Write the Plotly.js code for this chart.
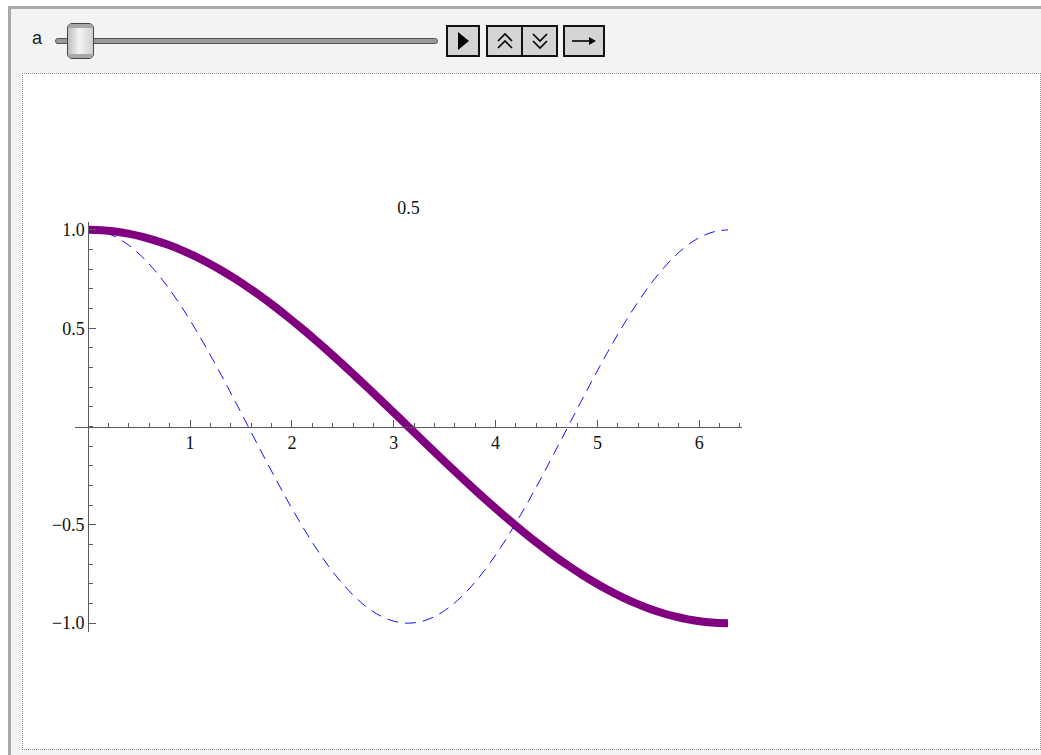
<!DOCTYPE html>
<html>
<head>
<meta charset="utf-8">
<script src="https://cdn.plot.ly/plotly-3.0.1.min.js"></script>
<style>
  html, body { margin:0; padding:0; background:#ffffff; width:1041px; height:755px; overflow:hidden; }
  #outer { position:absolute; left:8px; top:6px; width:1040px; height:760px; background:#f3f3f3;
           border-top:3px solid #a9a9a9; border-left:3px solid #a9a9a9; }
  #inner { position:absolute; left:22px; top:73px; width:1017px; height:675px; background:#ffffff;
           border:1px dotted #8a8a8a; }
  #lbl { position:absolute; left:32px; top:28px; font-family:"Liberation Sans", Arial, sans-serif; font-size:18px; color:#222; }
  #track { position:absolute; left:55px; top:38px; width:381px; height:4px; background:#9a9a9a;
           border:1px solid #555; border-radius:3px; }
  #thumb { position:absolute; left:67px; top:23px; width:27px; height:36px; border:1px solid #444; border-radius:5px;
           background:linear-gradient(to right, #bdbdbd, #f4f4f4 45%, #d0d0d0); box-sizing:border-box; }
  #thumb:before { content:""; position:absolute; left:0; right:0; top:0; height:4px; background:#a8a8a8; border-radius:4px 4px 0 0; }
  #thumb:after { content:""; position:absolute; left:0; right:0; bottom:0; height:4px; background:#a8a8a8; border-radius:0 0 4px 4px; }
  .btn { position:absolute; top:25px; height:32px; background:#d4d4d4; border:2px solid #111; box-sizing:border-box;
         display:flex; align-items:center; justify-content:center; }
  #plot { position:absolute; left:0; top:0; width:1041px; height:755px; }
</style>
</head>
<body>
<div id="outer"></div>
<div id="inner"></div>
<div id="lbl">a</div>
<div id="track"></div>
<div id="thumb"></div>
<div class="btn" style="left:446px;width:34px;">
  <svg width="16" height="20"><polygon points="3,1 14,10 3,19" fill="#000"/></svg>
</div>
<div class="btn" style="left:486px;width:37px;">
  <svg width="20" height="20"><polyline points="3,10 10,3 17,10" fill="none" stroke="#000" stroke-width="1.6"/><polyline points="3,17 10,10 17,17" fill="none" stroke="#000" stroke-width="1.6"/></svg>
</div>
<div class="btn" style="left:521px;width:37px;">
  <svg width="20" height="20"><polyline points="3,3 10,10 17,3" fill="none" stroke="#000" stroke-width="1.6"/><polyline points="3,10 10,17 17,10" fill="none" stroke="#000" stroke-width="1.6"/></svg>
</div>
<div class="btn" style="left:563px;width:42px;">
  <svg width="28" height="14"><line x1="2" y1="7" x2="22" y2="7" stroke="#000" stroke-width="1.6"/><polygon points="19,3 26,7 19,11" fill="#000"/></svg>
</div>
<div id="plot"></div>
<script>
// Parameter value shown above the plot
const paramLabel = "0.5";

// Sample positions along x (0 .. 2π)
const xs = [0, 0.131, 0.262, 0.393, 0.524, 0.654, 0.785, 0.916, 1.047, 1.178, 1.309, 1.440,
  1.571, 1.702, 1.833, 1.963, 2.094, 2.225, 2.356, 2.487, 2.618, 2.749, 2.880, 3.011,
  3.142, 3.272, 3.403, 3.534, 3.665, 3.796, 3.927, 4.058, 4.189, 4.320, 4.451, 4.581,
  4.712, 4.843, 4.974, 5.105, 5.236, 5.367, 5.498, 5.629, 5.760, 5.890, 6.021, 6.152, 6.283];

// Dashed blue curve
const dashedY = [1, 0.9914, 0.9659, 0.9239, 0.8660, 0.7934, 0.7071, 0.6088, 0.5, 0.3827, 0.2588, 0.1305,
  0, -0.1305, -0.2588, -0.3827, -0.5, -0.6088, -0.7071, -0.7934, -0.8660, -0.9239, -0.9659, -0.9914,
  -1, -0.9914, -0.9659, -0.9239, -0.8660, -0.7934, -0.7071, -0.6088, -0.5, -0.3827, -0.2588, -0.1305,
  0, 0.1305, 0.2588, 0.3827, 0.5, 0.6088, 0.7071, 0.7934, 0.8660, 0.9239, 0.9659, 0.9914, 1];

// Thick purple curve
const thickY = [1, 0.9979, 0.9914, 0.9808, 0.9659, 0.9469, 0.9239, 0.8969, 0.8660, 0.8315, 0.7934, 0.7518,
  0.7071, 0.6594, 0.6088, 0.5556, 0.5, 0.4423, 0.3827, 0.3214, 0.2588, 0.1951, 0.1305, 0.0654,
  0, -0.0654, -0.1305, -0.1951, -0.2588, -0.3214, -0.3827, -0.4423, -0.5, -0.5556, -0.6088, -0.6594,
  -0.7071, -0.7518, -0.7934, -0.8315, -0.8660, -0.8969, -0.9239, -0.9469, -0.9659, -0.9808, -0.9914, -0.9979, -1];

// Tick labels
const xTickVals = [1, 2, 3, 4, 5, 6];
const xTickText = ["1", "2", "3", "4", "5", "6"];
const yTickVals = [1, 0.5, -0.5, -1];
const yTickText = ["1.0", "0.5", "\u22120.5", "\u22121.0"];

const xRange = [-0.13, 6.42];
const yRange = [-1.045, 1.04];

const axisColor = "#5a5a5a";
const tickFont = {family: "Liberation Serif, Times New Roman, serif", size: 18, color: "#111"};

const traces = [
  {x: xs, y: dashedY, type: "scatter", mode: "lines",
   line: {color: "#1010ff", width: 1, dash: "11px,7px", shape: "spline"}, hoverinfo: "skip"},
  {x: xs, y: thickY, type: "scatter", mode: "lines",
   line: {color: "#800080", width: 8, shape: "spline"}, hoverinfo: "skip"}
];

const layout = {
  width: 1041, height: 755,
  margin: {l: 75, r: 299, t: 222, b: 123},
  paper_bgcolor: "rgba(0,0,0,0)", plot_bgcolor: "rgba(0,0,0,0)",
  showlegend: false,
  title: {text: paramLabel, font: {family: "Liberation Serif, Times New Roman, serif", size: 18, color: "#111"},
          xref: "paper", x: 0.5, xanchor: "center", yref: "container", y: 1 - 208/755, yanchor: "middle"},
  xaxis: {range: xRange, anchor: "free", position: (0 - yRange[0]) / (yRange[1] - yRange[0]),
          showgrid: false, zeroline: false, showline: true, linecolor: axisColor, linewidth: 1,
          tickmode: "array", tickvals: xTickVals, ticktext: xTickText, ticks: "inside", ticklen: 7,
          tickcolor: axisColor, tickwidth: 1, tickfont: tickFont, ticklabelstandoff: 0,
          minor: {tickmode: "linear", tick0: 0, dtick: 0.2, ticks: "inside", ticklen: 4, tickcolor: axisColor, tickwidth: 1, showgrid: false}},
  yaxis: {range: yRange, anchor: "free", position: (0 - xRange[0]) / (xRange[1] - xRange[0]),
          showgrid: false, zeroline: false, showline: true, linecolor: axisColor, linewidth: 1,
          tickmode: "array", tickvals: yTickVals, ticktext: yTickText, ticks: "inside", ticklen: 7,
          tickcolor: axisColor, tickwidth: 1, tickfont: tickFont, ticklabelstandoff: 0,
          minor: {tickmode: "linear", tick0: 0, dtick: 0.1, ticks: "inside", ticklen: 4, tickcolor: axisColor, tickwidth: 1, showgrid: false}}
};

Plotly.newPlot("plot", traces, layout, {staticPlot: true, displayModeBar: false});
</script>
</body>
</html>
